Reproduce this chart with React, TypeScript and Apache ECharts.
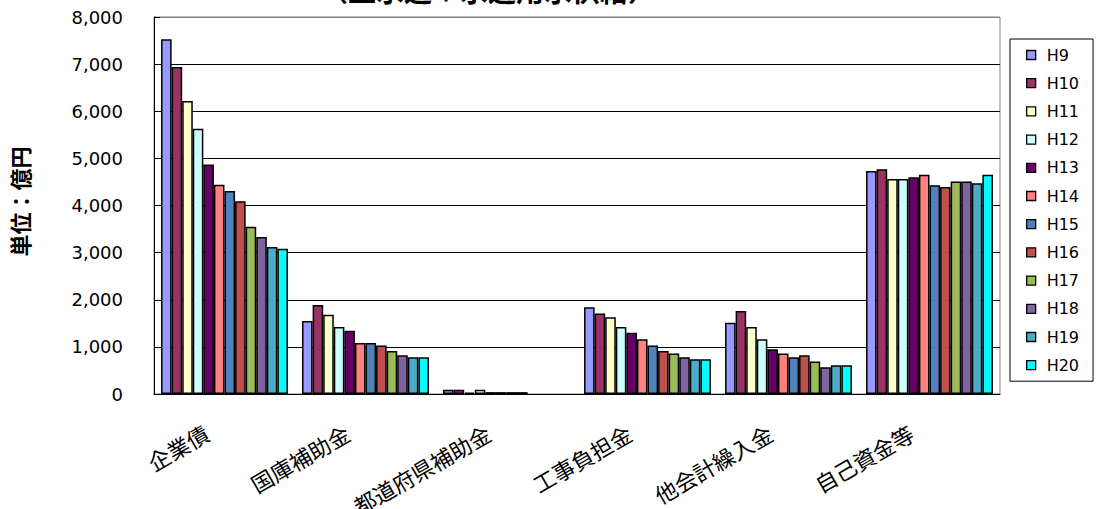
import React, { useEffect, useRef } from "react";
import * as echarts from "echarts";

const categories = ["企業債", "国庫補助金", "都道府県補助金", "工事負担金", "他会計繰入金", "自己資金等"];
const years = ["H9", "H10", "H11", "H12", "H13", "H14", "H15", "H16", "H17", "H18", "H19", "H20"];
const colors = ["#9999FF", "#993366", "#FFFFCC", "#CCFFFF", "#660066", "#FF8080", "#4F81BD", "#C0504D", "#9BBB59", "#8064A2", "#4BACC6", "#00FFFF"];

const H9 = [7530, 1550, 90, 1840, 1510, 4730];
const H10 = [6940, 1890, 90, 1710, 1760, 4770];
const H11 = [6220, 1680, 30, 1630, 1420, 4560];
const H12 = [5630, 1420, 90, 1420, 1160, 4560];
const H13 = [4870, 1340, 40, 1300, 950, 4600];
const H14 = [4440, 1080, 40, 1160, 860, 4650];
const H15 = [4310, 1080, 40, 1030, 780, 4430];
const H16 = [4090, 1030, 40, 910, 820, 4390];
const H17 = [3550, 910, null, 860, 690, 4510];
const H18 = [3330, 820, null, 780, 570, 4510];
const H19 = [3120, 780, null, 740, 610, 4470];
const H20 = [3080, 780, null, 740, 610, 4650];
const seriesValues = [H9, H10, H11, H12, H13, H14, H15, H16, H17, H18, H19, H20];

const titleText = "（上水道＋水道用水供給）";
const yName = "単位：億円";

export default function App() {
  const ref = useRef<HTMLDivElement>(null);
  useEffect(() => {
    if (!ref.current) return;
    const chart = echarts.init(ref.current, null, { renderer: "svg" });
    const gridColors = ["#000", "#000", "#000", "#000", "#000", "#000", "#000", "#000", "#808080"];
    chart.setOption({
      animation: false,
      backgroundColor: "#fff",
      graphic: [
        {
          type: "text",
          left: 320,
          top: -24,
          style: {
            text: titleText,
            fontSize: 28,
            fontWeight: "bold",
            fontFamily: "Noto Sans CJK JP",
            fill: "#000",
          },
        },
      ],
      grid: {
        left: 154,
        right: 97,
        top: 17,
        bottom: 115,
        show: true,
        borderColor: "#808080",
        borderWidth: 1,
        backgroundColor: "transparent",
        outerBoundsMode: "none",
        containLabel: false,
      },
      legend: {
        orient: "vertical",
        left: 1010,
        top: 39,
        padding: [7, 14, 7, 16],
        borderColor: "#000",
        borderWidth: 1,
        itemWidth: 9,
        itemHeight: 9,
        itemGap: 10.2,
        icon: "rect",
        itemStyle: { borderColor: "#000", borderWidth: 1.3 },
        textStyle: {
          fontFamily: "DejaVu Sans",
          fontSize: 16,
          color: "#000",
          lineHeight: 18,
          padding: [0, 0, 0, 6],
        },
        data: years,
      },
      xAxis: {
        type: "category",
        data: categories,
        axisLine: { lineStyle: { color: "#000", width: 1 } },
        axisTick: { inside: true, length: 7, lineStyle: { color: "#000" } },
        axisLabel: {
          interval: 0,
          rotate: 30,
          margin: 26,
          padding: [0, 21, 0, 0],
          fontSize: 22,
          fontFamily: "Noto Sans CJK JP",
          color: "#000",
        },
      },
      yAxis: {
        type: "value",
        min: 0,
        max: 8000,
        interval: 1000,
        name: yName,
        nameLocation: "middle",
        nameGap: 124,
        nameTextStyle: {
          fontSize: 22,
          fontWeight: "bold",
          fontFamily: "Noto Sans CJK JP",
          color: "#000",
          padding: [0, 0, 0, 8],
        },
        axisLine: { show: true, lineStyle: { color: "#000", width: 1 } },
        axisTick: { show: true, inside: true, length: 6, lineStyle: { color: "#000" } },
        axisLabel: {
          margin: 31,
          fontSize: 18,
          fontFamily: "DejaVu Sans",
          color: "#000",
          formatter: (v: number) => v.toLocaleString("en-US"),
        },
        splitLine: { show: true, lineStyle: { color: gridColors, width: 1 } },
      },
      series: years.map((y, i) => ({
        name: y,
        type: "bar",
        data: seriesValues[i],
        barGap: "0%",
        barCategoryGap: "10%",
        itemStyle: { color: colors[i], borderColor: "#000", borderWidth: 1.5 },
      })),
    });
    return () => chart.dispose();
  }, []);
  return <div ref={ref} style={{ position: "fixed", left: 0, top: 0, width: 1097, height: 509 }} />;
}
